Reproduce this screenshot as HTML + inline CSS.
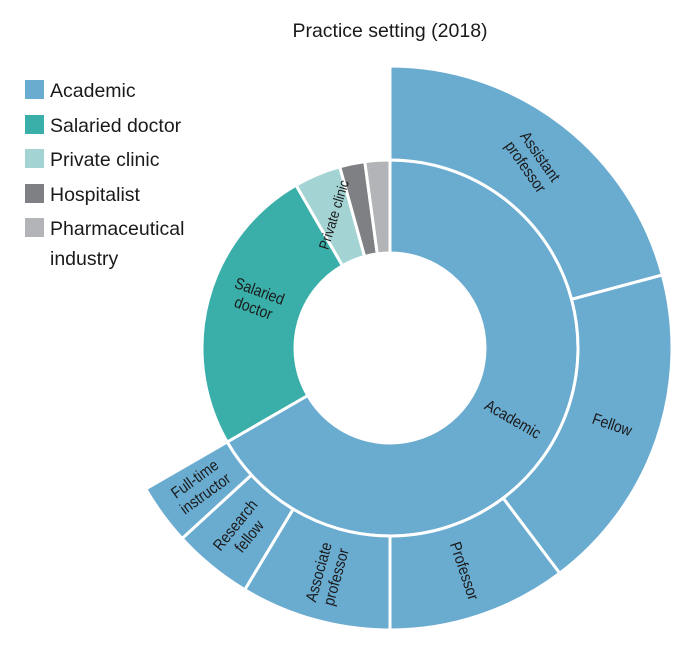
<!DOCTYPE html>
<html><head><meta charset="utf-8"><style>
body{margin:0;background:#fff;}
svg text{font-family:"Liberation Sans Narrow","Liberation Sans",sans-serif;fill:#1a1a1a;}
</style></head><body>
<svg id="s" width="693" height="648" viewBox="0 0 693 648" xmlns="http://www.w3.org/2000/svg">
<text x="390" y="37" font-size="19.5" text-anchor="middle">Practice setting (2018)</text>
<rect x="25" y="80" width="19" height="19" fill="#6aabd0"/><text x="50" y="97" font-size="19.5">Academic</text>
<rect x="25" y="115" width="19" height="19" fill="#3aafaa"/><text x="50" y="132" font-size="19.5">Salaried doctor</text>
<rect x="25" y="149" width="19" height="19" fill="#a4d3d3"/><text x="50" y="166" font-size="19.5">Private clinic</text>
<rect x="25" y="184" width="19" height="19" fill="#7f8084"/><text x="50" y="201" font-size="19.5">Hospitalist</text>
<rect x="25" y="218" width="19" height="19" fill="#b3b4b7"/><text x="50" y="235" font-size="19.5">Pharmaceutical</text>
<text x="50" y="265" font-size="19.5">industry</text>
<g id="g"></g>
</svg>
<script>
var cx=390,cy=348,g=document.getElementById('g'),NS='http://www.w3.org/2000/svg';
function pt(r,a){a=a*Math.PI/180;return [cx+r*Math.sin(a),cy-r*Math.cos(a)];}
function arc(r0,r1,a0,a1,c){var l=(a1-a0)>180?1:0,p0=pt(r1,a0),p1=pt(r1,a1),p2=pt(r0,a1),p3=pt(r0,a0);
var d='M'+p0+'A'+r1+','+r1+' 0 '+l+' 1 '+p1+'L'+p2+'A'+r0+','+r0+' 0 '+l+' 0 '+p3+'Z';
var e=document.createElementNS(NS,'path');e.setAttribute('d',d);e.setAttribute('fill',c);e.setAttribute('stroke','#fff');e.setAttribute('stroke-width','3');g.appendChild(e);}
var A='#6aabd0';
arc(95,188,0,240,A);arc(95,188,240,330,'#3aafaa');arc(95,188,330,344.5,'#a4d3d3');arc(95,188,344.5,352.3,'#7f8084');arc(95,188,352.3,360,'#b3b4b7');
arc(188,282,0,75,A);arc(188,282,75,143,A);arc(188,282,143,180,A);arc(188,282,180,211,A);arc(188,282,211,227.5,A);arc(188,282,227.5,240,A);
function lab(lines,r,a,rot,fs){fs=fs||16;var p=pt(r,a);var t=document.createElementNS(NS,'text');t.setAttribute('font-size',fs);t.setAttribute('text-anchor','middle');
t.setAttribute('transform','translate('+p[0]+','+p[1]+') rotate('+rot+') scale(0.88,1)');
var n=lines.length;lines.forEach(function(s,i){var ts=document.createElementNS(NS,'tspan');ts.setAttribute('x',0);ts.setAttribute('y',(i-(n-1)/2)*18+5.5);ts.textContent=s;t.appendChild(ts);});g.appendChild(t);}
lab(['Assistant','professor'],235,37.5,55);
lab(['Fellow'],235,109,19);
lab(['Professor'],235,161.5,71.5);
lab(['Associate','professor'],235,195.5,-74.5);
lab(['Research','fellow'],235,219,-51);
lab(['Full-time','instructor'],235,234,-36);
lab(['Academic'],142,120,30);
lab(['Salaried','doctor'],142,290,20);
lab(['Private clinic'],145,337,-73,14.5);
</script>
</body></html>
